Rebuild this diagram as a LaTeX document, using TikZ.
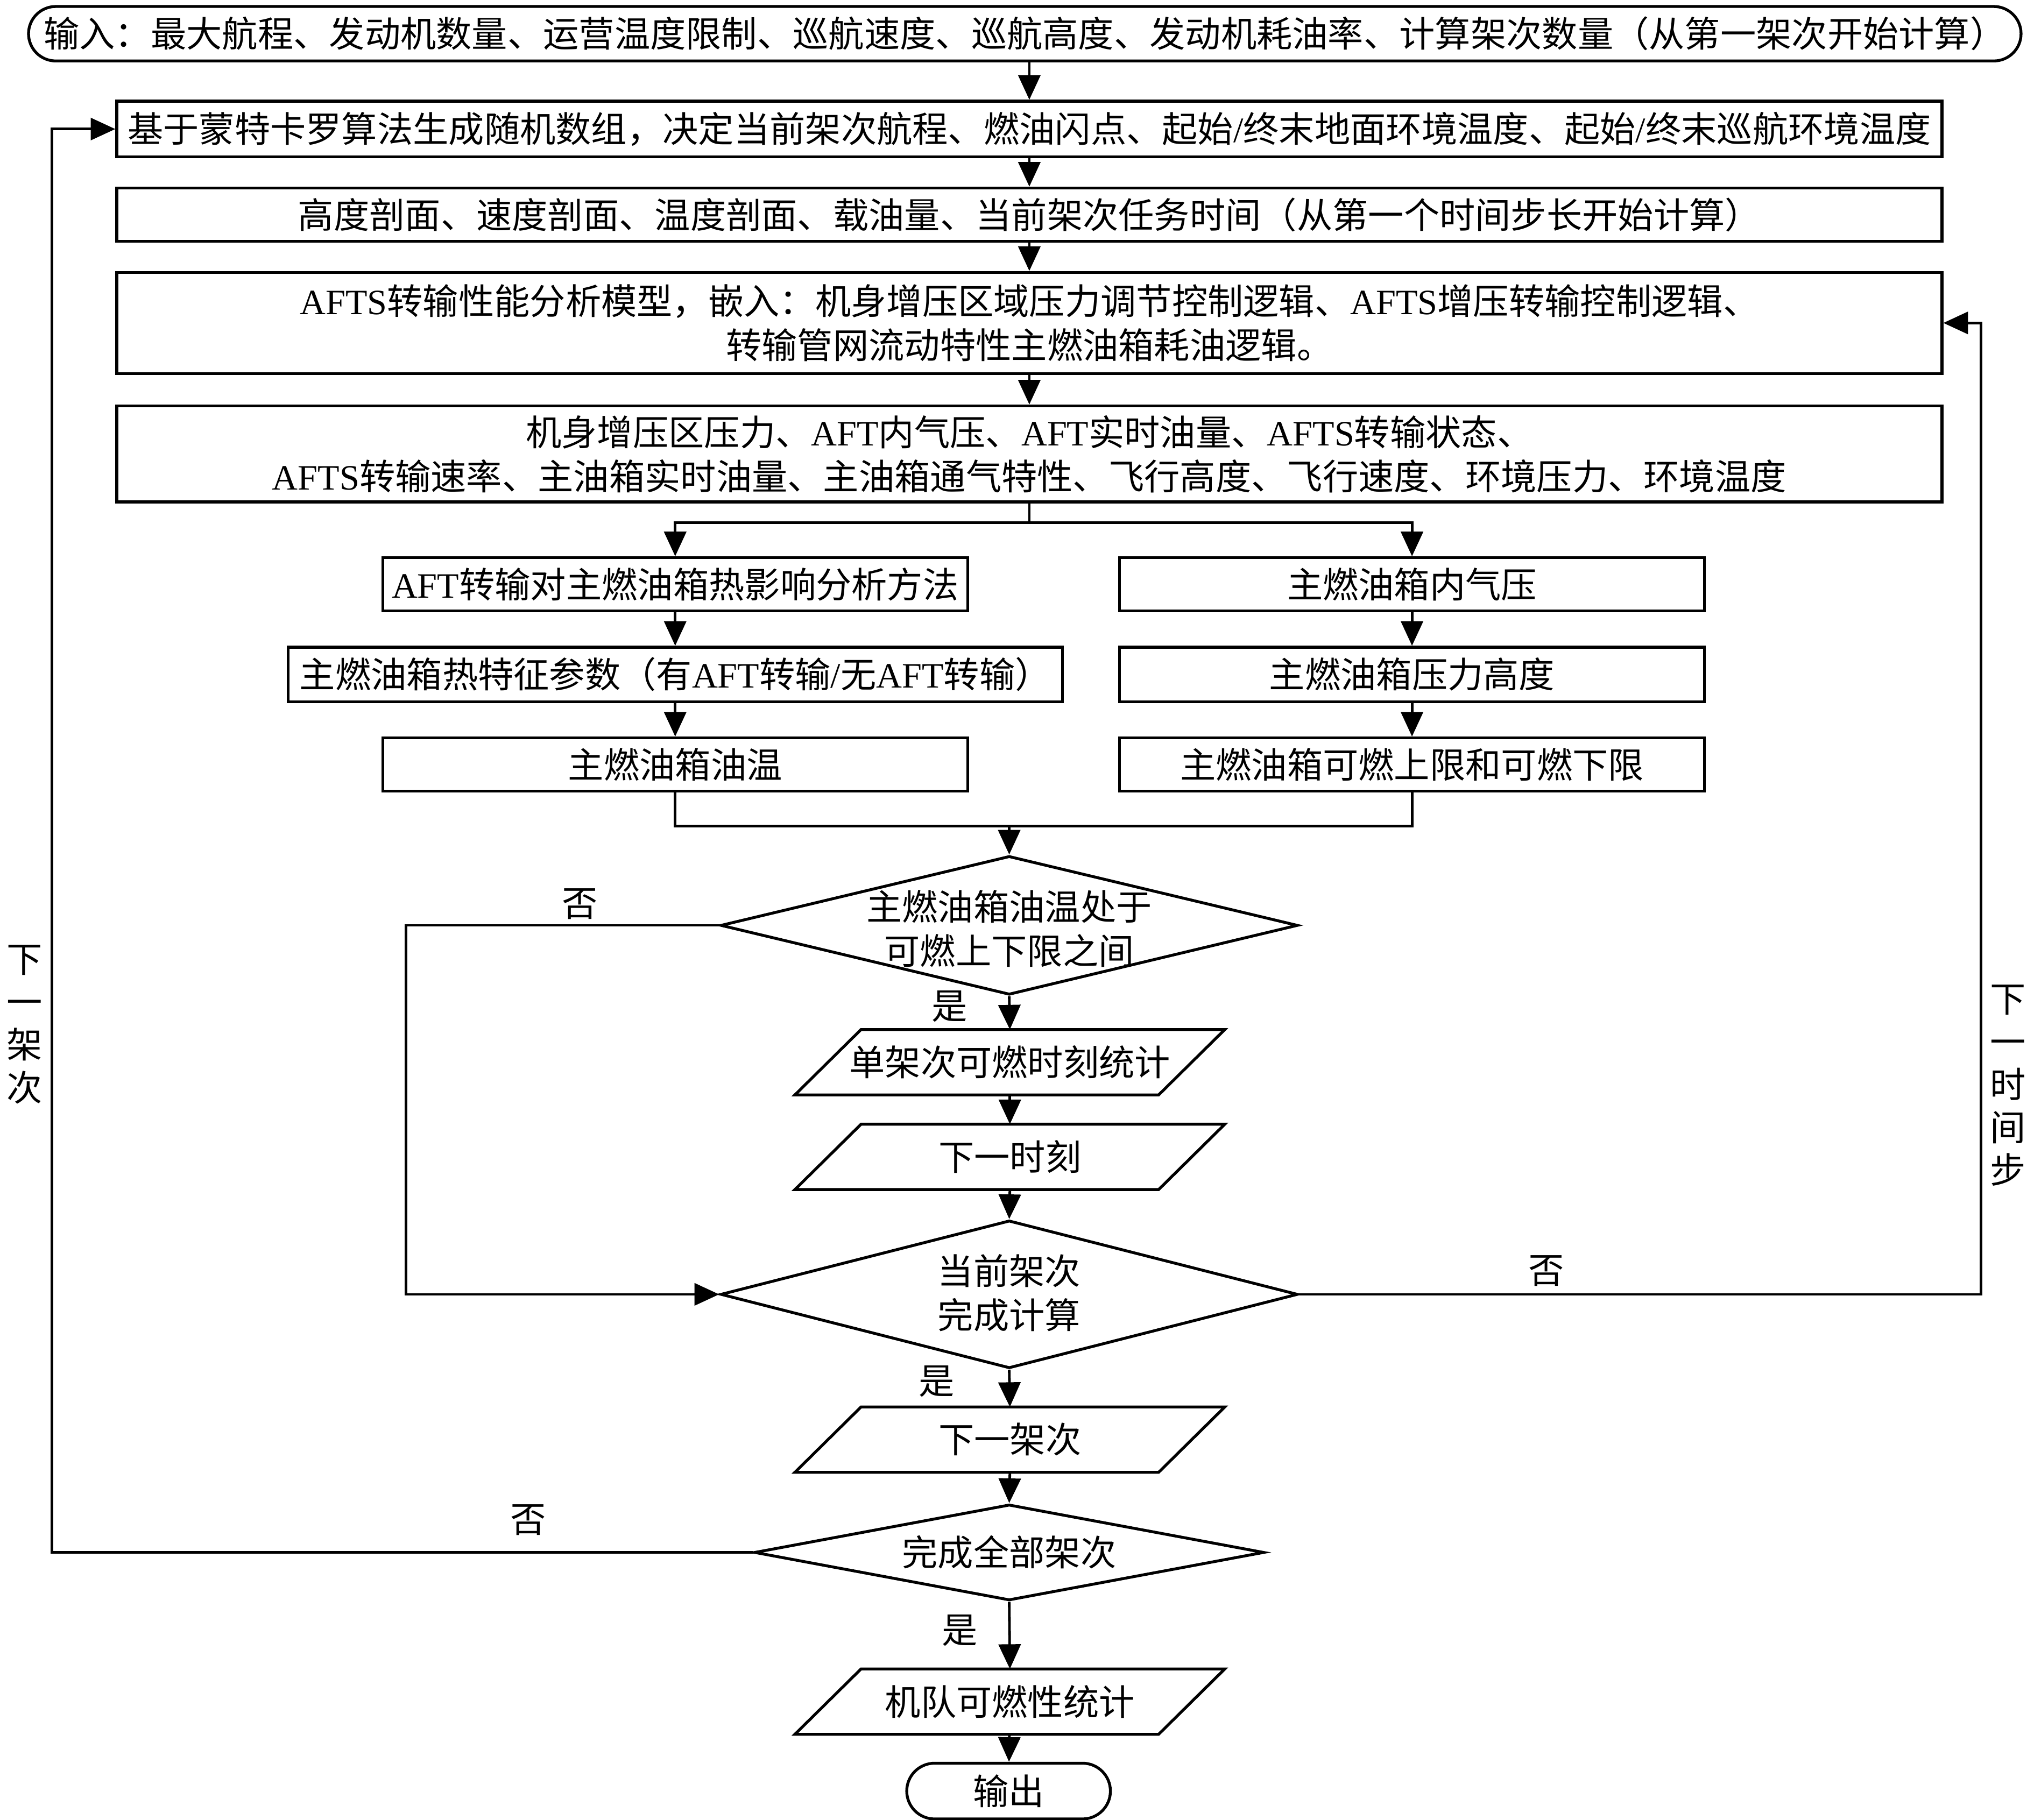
\documentclass[tikz,border=0pt]{standalone}
\usepackage{fontspec}
\setmainfont{Noto Sans CJK SC}
\newfontfamily\latfont{Liberation Serif}
\newcommand{\LT}[1]{{\latfont #1}}
\usetikzlibrary{arrows.meta,shapes.geometric,shapes.misc}
\tikzset{
  txt/.style={font=\fontsize{27.5pt}{34pt}\selectfont},
  base/.style={txt, draw, line width=2.2pt, inner sep=0pt, align=center},
  procbox/.style={base, rectangle},
  termbox/.style={base, rounded rectangle},
  iobox/.style={txt, inner sep=0pt, minimum width=280pt, minimum height=50pt, align=center},
  decbox/.style={draw, line width=2.2pt, diamond, inner sep=0pt},
  lbl/.style={txt, inner sep=0pt, align=center},
  vlbl/.style={font=\fontsize{27.5pt}{33pt}\selectfont, inner sep=0pt, align=center},
  conn/.style={line width=2pt, -{Triangle[length=19pt,width=17pt]}},
  plain/.style={line width=2pt},
  pgram/.style={line width=2.2pt, line join=miter}
}
\begin{document}
\begin{tikzpicture}[x=1pt,y=-1pt]
\useasboundingbox (0,0) rectangle (1568,1403);

% main chain
\node[termbox, minimum width=1536pt, minimum height=42pt] (in) at (790,26)
  {输入：最大航程、发动机数量、运营温度限制、巡航速度、巡航高度、发动机耗油率、计算架次数量（从第一架次开始计算）};
\node[procbox, minimum width=1407pt, minimum height=43pt] (b2) at (793.5,99.5)
  {基于蒙特卡罗算法生成随机数组，决定当前架次航程、燃油闪点、起始\LT{/}终末地面环境温度、起始\LT{/}终末巡航环境温度};
\node[procbox, minimum width=1407pt, minimum height=41pt] (b3) at (793.5,165.5)
  {高度剖面、速度剖面、温度剖面、载油量、当前架次任务时间（从第一个时间步长开始计算）};
\node[procbox, minimum width=1407pt, minimum height=78pt] (b4) at (793.5,249)
  {\LT{AFTS}转输性能分析模型，嵌入：机身增压区域压力调节控制逻辑、\LT{AFTS}增压转输控制逻辑、\\转输管网流动特性主燃油箱耗油逻辑。};
\node[procbox, minimum width=1407pt, minimum height=74pt] (b5) at (793.5,350)
  {机身增压区压力、\LT{AFT}内气压、\LT{AFT}实时油量、\LT{AFTS}转输状态、\\\LT{AFTS}转输速率、主油箱实时油量、主油箱通气特性、飞行高度、飞行速度、环境压力、环境温度};

% two columns
\node[procbox, minimum width=451pt, minimum height=41pt] (L1) at (520.5,450.5) {\LT{AFT}转输对主燃油箱热影响分析方法};
\node[procbox, minimum width=597pt, minimum height=42pt] (L2) at (520.5,520) {主燃油箱热特征参数（有\LT{AFT}转输\LT{/}无\LT{AFT}转输）};
\node[procbox, minimum width=451pt, minimum height=41pt] (L3) at (520.5,589.5) {主燃油箱油温};
\node[procbox, minimum width=451pt, minimum height=41pt] (R1) at (1088.5,450.5) {主燃油箱内气压};
\node[procbox, minimum width=451pt, minimum height=42pt] (R2) at (1088.5,520) {主燃油箱压力高度};
\node[procbox, minimum width=451pt, minimum height=41pt] (R3) at (1088.5,589.5) {主燃油箱可燃上限和可燃下限};

% decisions and io
\node[decbox, minimum width=445pt, minimum height=107pt] (d1) at (778,713.5) {};
\node[lbl] (d1t) at (778,716) {主燃油箱油温处于\\可燃上下限之间};
\node[iobox] (p1) at (778.5,819) {单架次可燃时刻统计};
\node[iobox] (p2) at (778.5,892) {下一时刻};
\node[decbox, minimum width=445pt, minimum height=114pt] (d2) at (778,998) {};
\node[lbl] (d2t) at (778,997) {当前架次\\完成计算};
\node[iobox] (p3) at (778.5,1110) {下一架次};
\node[decbox, minimum width=393pt, minimum height=74pt] (d3) at (778,1197) {};
\node[lbl] (d3t) at (778,1197) {完成全部架次};
\node[iobox] (p4) at (778.5,1312) {机队可燃性统计};
\node[termbox, minimum width=157pt, minimum height=43pt] (out) at (777.5,1381) {输出};

\foreach \n in {p1,p2,p3,p4}
  \draw[pgram] ([xshift=25.5pt]\n.north west) -- ([xshift=25.5pt]\n.north east)
    -- ([xshift=-25.5pt]\n.south east) -- ([xshift=-25.5pt]\n.south west) -- cycle;

% labels
\node[lbl] (no1) at (447,697) {否};
\node[lbl] (yes1) at (732,776) {是};
\node[lbl] (no2) at (1192,980) {否};
\node[lbl] (yes2) at (722,1065) {是};
\node[lbl] (no3) at (407,1172) {否};
\node[lbl] (yes3) at (740,1257) {是};
\node[vlbl] (vl) at (19,790) {下\\一\\架\\次};
\node[vlbl] (vr) at (1548,837) {下\\一\\时\\间\\步};

% connectors
\draw[conn] (b2.north |- in.south) -- (b2.north);
\draw[conn] (b2) -- (b3);
\draw[conn] (b3) -- (b4);
\draw[conn] (b4) -- (b5);
\coordinate (sp) at (793.5,403);
\draw[plain] (b5.south) -- (sp);
\draw[conn] (sp) -| (L1.north);
\draw[conn] (sp) -| (R1.north);
\draw[conn] (L1) -- (L2);
\draw[conn] (L2) -- (L3);
\draw[conn] (R1) -- (R2);
\draw[conn] (R2) -- (R3);
\coordinate (mg) at (778,637);
\draw[plain] (L3.south) |- (mg) -| (R3.south);
\draw[conn] (mg) -- (d1.north);
\draw[conn] (d1.south) -- (p1.north);
\draw[conn] (p1) -- (p2);
\draw[conn] (p2.south) -- (d2.north);
\coordinate (nL) at (313,713.5);
\draw[conn] (d1.west) -- (nL) |- (d2.west);
\coordinate (rR) at (1527,249);
\draw[conn] (d2.east) -| (rR) -- (b4.east);
\draw[conn] (d2.south) -- (p3.north);
\draw[conn] (p3.south) -- (d3.north);
\coordinate (lL) at (40,99.5);
\draw[conn] (d3.west) -| (lL) -- (b2.west);
\draw[conn] (d3.south) -- (p4.north);
\draw[conn] (p4) -- (out);
\end{tikzpicture}
\end{document}
